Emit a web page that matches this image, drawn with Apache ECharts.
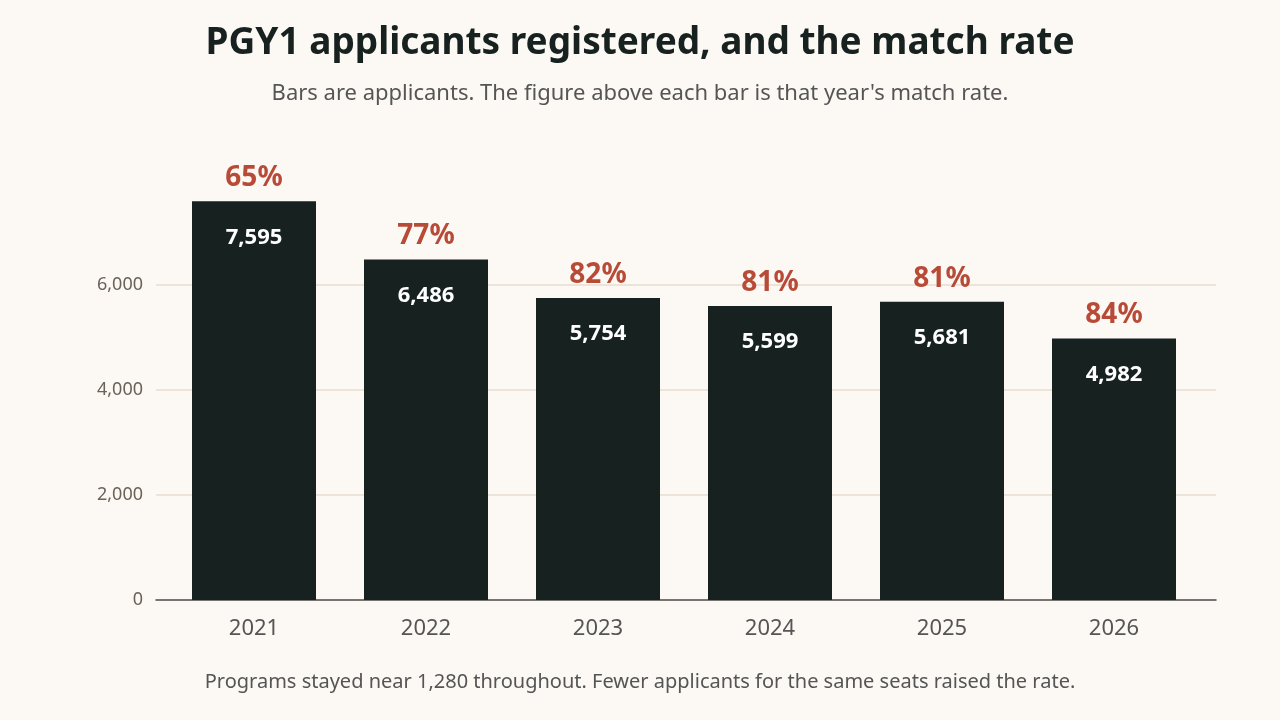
<!DOCTYPE html>
<html>
<head>
<meta charset="utf-8">
<script src="https://cdn.jsdelivr.net/npm/echarts@6/dist/echarts.min.js"></script>
<style>
html,body{margin:0;padding:0;background:#fcf9f4;}
#chart{width:1280px;height:720px;}
</style>
</head>
<body>
<div id="chart"></div>
<script>
const years = ['2021','2022','2023','2024','2025','2026'];
const applicants = [7595, 6486, 5754, 5599, 5681, 4982];
const matchRates = [65, 77, 82, 81, 81, 84];
const yTicks = [0, 2000, 4000, 6000];

const FONT = '"Noto Sans", "Open Sans", sans-serif';
const chart = echarts.init(document.getElementById('chart'));
chart.setOption({
  backgroundColor: '#fcf9f4',
  animation: false,
  textStyle: { fontFamily: FONT },
  title: [
    { text: 'PGY1 applicants registered, and the match rate', left: 'center', top: 20,
      textStyle: { fontFamily: FONT, fontSize: 37, fontWeight: 'bold', color: '#172120' } },
    { text: "Bars are applicants. The figure above each bar is that year's match rate.", left: 'center', top: 78,
      textStyle: { fontFamily: FONT, fontSize: 22, fontWeight: 'normal', color: '#555555' } },
    { text: 'Programs stayed near 1,280 throughout. Fewer applicants for the same seats raised the rate.', left: 'center', top: 667,
      textStyle: { fontFamily: FONT, fontSize: 20, fontWeight: 'normal', color: '#555555' } }
  ],
  grid: [
    { left: 156, right: 64, top: 180, bottom: 120 },
    { left: 168, right: 80, top: 180, bottom: 120 }
  ],
  xAxis: [
    { type: 'category', gridIndex: 0, data: years,
      axisLine: { show: true, lineStyle: { color: '#4a4a48', width: 1.5 } },
      axisTick: { show: false }, axisLabel: { show: false } },
    { type: 'category', gridIndex: 1, data: years,
      axisLine: { show: false }, axisTick: { show: false },
      axisLabel: { color: '#555555', fontSize: 22, margin: 18, fontFamily: FONT } }
  ],
  yAxis: [
    { type: 'value', gridIndex: 0, min: 0, max: 8000, interval: 2000,
      axisLine: { show: false }, axisTick: { show: false },
      axisLabel: { color: '#6b6259', fontSize: 18, margin: 13, showMaxLabel: false, fontFamily: FONT,
        formatter: v => yTicks.includes(v) ? v.toLocaleString('en-US') : '' },
      splitLine: { show: true, showMaxLine: false, showMinLine: false, lineStyle: { color: '#e8ddd0', width: 1.5 } } },
    { type: 'value', gridIndex: 1, min: 0, max: 8000, interval: 2000, show: false, splitLine: { show: false } }
  ],
  series: [
    { type: 'bar', xAxisIndex: 1, yAxisIndex: 1, data: applicants, barWidth: 124,
      itemStyle: { color: '#172120' },
      label: { show: true, position: 'insideTop', distance: 25, color: '#ffffff', fontSize: 22, fontWeight: 'bold', fontFamily: FONT,
        formatter: p => p.value.toLocaleString('en-US') } },
    { type: 'bar', xAxisIndex: 1, yAxisIndex: 1, data: applicants, barWidth: 124, barGap: '-100%',
      itemStyle: { color: 'rgba(0,0,0,0)' }, silent: true,
      label: { show: true, position: 'top', distance: 9, color: '#b84a38', fontSize: 28, fontWeight: 'bold', fontFamily: FONT,
        formatter: p => matchRates[p.dataIndex] + '%' } }
  ]
});
</script>
</body>
</html>
